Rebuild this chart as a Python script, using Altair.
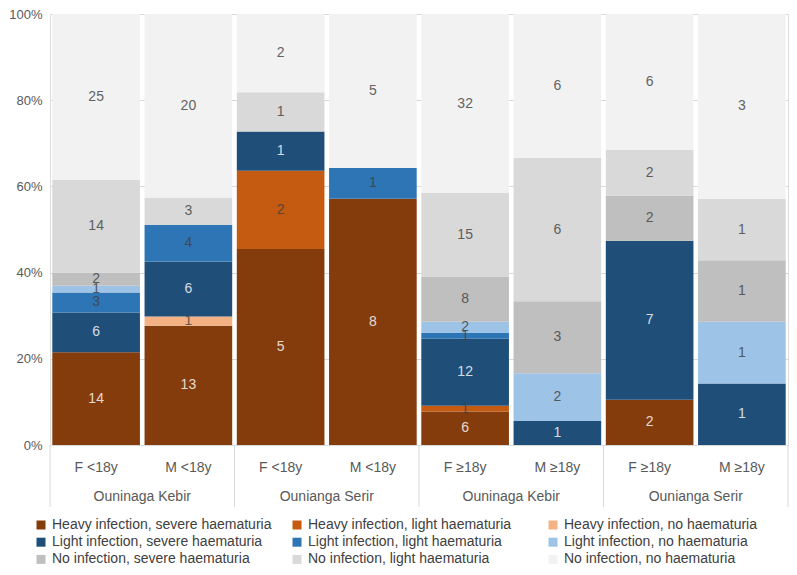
import altair as alt
import pandas as pd

categories = [
    "Heavy infection, severe haematuria",
    "Heavy infection, light haematuria",
    "Heavy infection, no haematuria",
    "Light infection, severe haematuria",
    "Light infection, light haematuria",
    "Light infection, no haematuria",
    "No infection, severe haematuria",
    "No infection, light haematuria",
    "No infection, no haematuria",
]
colors = ["#843C0C", "#C55A11", "#F4B183", "#1F4E79", "#2E75B6", "#9DC3E6",
          "#BFBFBF", "#D9D9D9", "#F2F2F2"]
dark_categories = ["Heavy infection, severe haematuria", "Light infection, severe haematuria"]

bar_labels = ["F <18y", "M <18y", "F <18y", "M <18y", "F ≥18y", "M ≥18y", "F ≥18y", "M ≥18y"]
groups = ["Ouninaga Kebir", "Ounianga Serir", "Ouninaga Kebir", "Ounianga Serir"]
group_first_bar = [0, 2, 4, 6]

heavy_severe = [14, 13, 5, 8, 6, 0, 2, 0]
heavy_light = [0, 0, 2, 0, 1, 0, 0, 0]
heavy_no = [0, 1, 0, 0, 0, 0, 0, 0]
light_severe = [6, 6, 1, 0, 12, 1, 7, 1]
light_light = [3, 4, 0, 1, 1, 0, 0, 0]
light_no = [1, 0, 0, 0, 2, 2, 0, 1]
no_severe = [2, 0, 0, 0, 8, 3, 2, 1]
no_light = [14, 3, 1, 0, 15, 6, 2, 1]
no_no = [25, 20, 2, 5, 32, 6, 6, 3]

series = [heavy_severe, heavy_light, heavy_no, light_severe, light_light,
          light_no, no_severe, no_light, no_no]

rows = []
for ci, (cat, vals) in enumerate(zip(categories, series)):
    for pos, v in enumerate(vals):
        if v > 0:
            rows.append({"pos": pos, "category": cat, "ord": ci, "count": v})
df = pd.DataFrame(rows)

group_df = pd.DataFrame({"pos": group_first_bar, "group": groups})
sep_left_df = pd.DataFrame({"pos": group_first_bar})
sep_right_df = pd.DataFrame({"pos": [len(bar_labels) - 1]})

W, H = 738, 431
step = W / len(bar_labels)
FONT = "Liberation Sans"

x_scale = alt.Scale(domain=list(range(len(bar_labels))), paddingInner=0, paddingOuter=0)
label_expr = "[" + ",".join(f"'{l}'" for l in bar_labels) + "][datum.value]"
x_axis = alt.Axis(title=None, labelExpr=label_expr, labelAngle=0, ticks=False, tickSize=0,
                  labelPadding=15, domainColor="#D9D9D9", labelFontSize=14,
                  labelColor="#595959", labelFont=FONT, grid=False)
y_axis = alt.Axis(title=None, format=".0%", values=[0, 0.2, 0.4, 0.6, 0.8, 1.0],
                  domain=False, ticks=False, tickSize=0, labelPadding=8,
                  gridColor="#D9D9D9", labelFontSize=13, labelColor="#595959",
                  labelFont=FONT)

bars = alt.Chart(df).mark_bar(width=alt.RelativeBandSize(0.95)).encode(
    x=alt.X("pos:O", scale=x_scale, axis=x_axis),
    y=alt.Y("count:Q", stack="normalize", scale=alt.Scale(domain=[0, 1]), axis=y_axis),
    color=alt.Color(
        "category:N",
        scale=alt.Scale(domain=categories, range=colors),
        legend=alt.Legend(
            title=None, orient="none", direction="horizontal", legendX=-16, legendY=504,
            columns=3, symbolType="square", symbolSize=81, symbolStrokeWidth=0,
            labelFontSize=14, labelFont=FONT, labelColor="#404040",
            labelOffset=4, labelLimit=400, rowPadding=3.2, columnPadding=18,
            gridAlign="all", padding=0,
        ),
    ),
    order=alt.Order("ord:Q", sort="ascending"),
)

labels = alt.Chart(df).mark_text(fontSize=14, font=FONT, baseline="middle", opacity=0.8).encode(
    x=alt.X("pos:O", scale=x_scale, axis=x_axis),
    y=alt.Y("count:Q", stack="normalize", bandPosition=0.5, axis=y_axis),
    detail="category:N",
    order=alt.Order("ord:Q", sort="ascending"),
    text="count:Q",
    color=alt.condition(
        "indexof(" + "[" + ",".join(f"'{c}'" for c in dark_categories) + "], datum.category) >= 0",
        alt.value("white"), alt.value("#404040")),
)

group_text = alt.Chart(group_df).mark_text(
    fontSize=14, font=FONT, color="#595959", baseline="middle", dx=step / 2
).encode(
    x=alt.X("pos:O", scale=x_scale, axis=x_axis),
    y=alt.value(H + 52),
    text="group:N",
)

sep_left = alt.Chart(sep_left_df).mark_rule(color="#D9D9D9", strokeWidth=1).encode(
    x=alt.X("pos:O", scale=x_scale, axis=x_axis, bandPosition=0),
    y=alt.value(H),
    y2=alt.value(H + 62),
)
sep_right = alt.Chart(sep_right_df).mark_rule(color="#D9D9D9", strokeWidth=1).encode(
    x=alt.X("pos:O", scale=x_scale, axis=x_axis, bandPosition=1),
    y=alt.value(H),
    y2=alt.value(H + 62),
)

chart = alt.layer(bars, labels, sep_left, sep_right, group_text).properties(
    width=W, height=H,
    padding={"left": 0, "top": 0, "right": 0, "bottom": 0},
).configure_view(stroke=None).configure(font=FONT)

chart.save("out.html", embed_options={"renderer": "svg", "actions": False})
